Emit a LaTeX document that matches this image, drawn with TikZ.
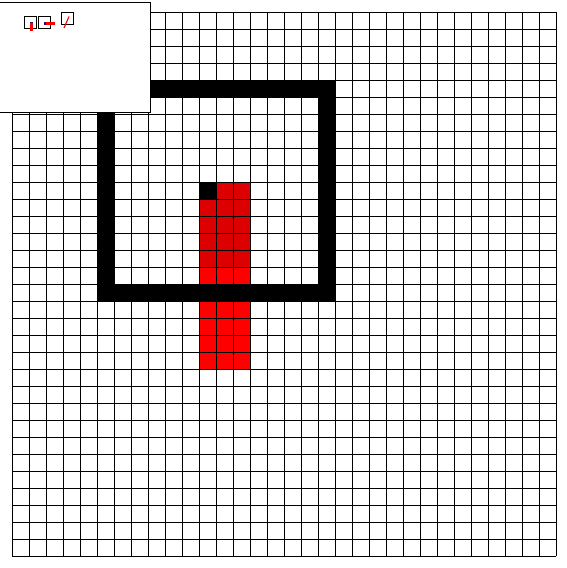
\documentclass[tikz,border=0pt]{standalone}
\usetikzlibrary{positioning}
\definecolor{barred}{RGB}{255,0,0}
\definecolor{bardark}{RGB}{221,0,0}
\definecolor{tipblue}{RGB}{30,20,110}
\tikzset{
gridline/.style={black, line width=1.3pt},
wallfill/.style={fill=black},
cellred/.style={fill=barred},
celldark/.style={fill=bardark},
insetpanel/.style={draw=black, fill=white, line width=1.4pt},
insetbox/.style={draw=black, line width=1.2pt},
insetbar/.style={fill=barred}
}
\begin{document}
\begin{tikzpicture}[x=0.5mm,y=-0.5mm]
\useasboundingbox (0,0) rectangle (566,568);
% board in cell units
\begin{scope}[shift={(12,12)},x=8.5mm,y=-8.5mm]
\fill[wallfill,even odd rule] (5,4) rectangle (19,17) (6,5) rectangle (18,16);
\fill[celldark] (11,10) rectangle (14,15);
\fill[cellred] (11,15) rectangle (14,16);
\fill[cellred] (11,17) rectangle (14,21);
\fill[wallfill] (11,10) rectangle (12,11);
\foreach \k in {0,...,32} {
  \draw[gridline] (\k,0) -- (\k,32);
  \draw[gridline] (0,\k) -- (32,\k);
}
\end{scope}
% inset with small views
\draw[insetpanel] (-2,2) rectangle (150,112);
\draw[insetbox] (24,16) rectangle (36,28);
\fill[insetbar] (30,22) rectangle (33,31);
\fill[tipblue] (30,22) rectangle (33,23.5);
\draw[insetbox] (38,16) rectangle (50.5,28);
\fill[insetbar] (44,22) rectangle (55,25);
\fill[tipblue] (44,22) rectangle (45.5,25);
\draw[insetbox] (61.5,12) rectangle (73.5,24);
\draw[barred, line width=1.6pt] (69,16.5) -- (64,28);
\end{tikzpicture}
\end{document}
